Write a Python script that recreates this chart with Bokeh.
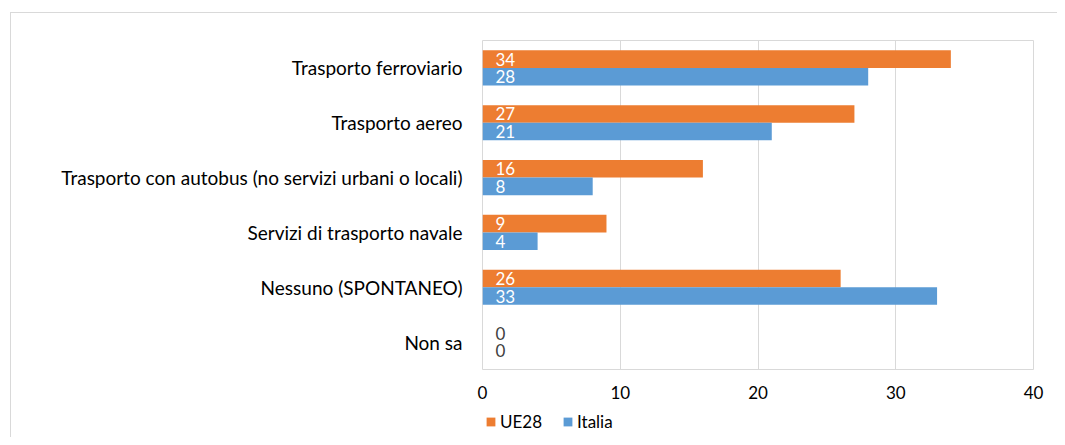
from bokeh.plotting import figure
from bokeh.layouts import column
from bokeh.models import ColumnDataSource, FactorRange, Range1d, Legend, LegendItem, FixedTicker
from bokeh.transform import dodge
from bokeh.core.properties import value
from bokeh.embed import file_html
from bokeh.resources import INLINE

categories = [
    "Trasporto ferroviario",
    "Trasporto aereo",
    "Trasporto con autobus (no servizi urbani o locali)",
    "Servizi di trasporto navale",
    "Nessuno (SPONTANEO)",
    "Non sa",
]
ue28 = [34, 27, 16, 9, 26, 0]
italia = [28, 21, 8, 4, 33, 0]
series_names = ["UE28", "Italia"]
x_ticks = [0, 10, 20, 30, 40]

FONT = "Lato"
ORANGE = "#ED7D31"
BLUE = "#5B9BD5"
GRID = "#d9d9d9"
BORDER = "1px solid #d9d9d9"

src = ColumnDataSource(dict(
    cat=categories,
    ue28=ue28,
    italia=italia,
    ue28_lbl=[str(v) for v in ue28],
    italia_lbl=[str(v) for v in italia],
    ue28_col=["white" if v > 0 else "#404040" for v in ue28],
    italia_col=["white" if v > 0 else "#404040" for v in italia],
))

p = figure(
    width=1047, height=395,
    y_range=FactorRange(*reversed(categories)),
    x_range=Range1d(0, 40),
    output_backend="svg", toolbar_location=None,
    min_border_left=471, min_border_right=25, min_border_top=27, min_border_bottom=39,
)
p.styles = {"border-top": BORDER, "border-left": BORDER}

r1 = p.hbar(y=dodge("cat", 0.16, range=p.y_range), right="ue28", left=0, height=0.32,
            source=src, fill_color=ORANGE, line_color=None)
r2 = p.hbar(y=dodge("cat", -0.16, range=p.y_range), right="italia", left=0, height=0.32,
            source=src, fill_color=BLUE, line_color=None)

p.text(x=0, y=dodge("cat", 0.16, range=p.y_range), text="ue28_lbl", source=src,
       x_offset=13, text_baseline="middle", text_align="left",
       text_font=value(FONT), text_font_size="17px", text_color="ue28_col")
p.text(x=0, y=dodge("cat", -0.16, range=p.y_range), text="italia_lbl", source=src,
       x_offset=13, text_baseline="middle", text_align="left",
       text_font=value(FONT), text_font_size="17px", text_color="italia_col")

p.outline_line_color = GRID
p.outline_line_width = 1
p.ygrid.grid_line_color = None
p.xgrid.grid_line_color = GRID
p.xgrid.grid_line_width = 1
p.xaxis.ticker = FixedTicker(ticks=x_ticks)

for ax in (p.xaxis[0], p.yaxis[0]):
    ax.axis_line_color = None
    ax.major_tick_line_color = None
    ax.minor_tick_line_color = None
    ax.major_tick_out = 0
    ax.major_tick_in = 0
    ax.major_label_text_font = FONT
    ax.major_label_text_color = "#000000"
p.yaxis.major_label_text_font_size = "19px"
p.xaxis.major_label_text_font_size = "17px"
p.yaxis.major_label_standoff = 20
p.xaxis.major_label_standoff = 16

# legend strip below the chart (frame aligned with the main chart's frame)
lf = figure(
    width=1047, height=30,
    x_range=Range1d(0, 1), y_range=Range1d(0, 1),
    output_backend="svg", toolbar_location=None,
    min_border_left=0, min_border_right=0, min_border_top=0, min_border_bottom=0,
)
lf.styles = {"border-left": BORDER}
lf.axis.visible = False
lf.grid.visible = False
lf.outline_line_color = None
d1 = lf.hbar(y=[-5], right=[1], left=0, height=0.1, fill_color=ORANGE, line_color=None)
d2 = lf.hbar(y=[-5], right=[1], left=0, height=0.1, fill_color=BLUE, line_color=None)

legend = Legend(items=[LegendItem(label=series_names[0], renderers=[d1]),
                       LegendItem(label=series_names[1], renderers=[d2])],
                orientation="horizontal", location=(3, 5))
legend.label_text_font = FONT
legend.label_text_font_size = "17px"
legend.label_text_color = "#000000"
legend.glyph_width = 11
legend.glyph_height = 11
legend.label_standoff = 4
legend.spacing = 20
legend.padding = 0
legend.margin = 0
legend.border_line_color = None
legend.background_fill_alpha = 0
lf.add_layout(legend, "center")

layout = column(p, lf, spacing=0)
layout.margin = (12, 0, 0, 10)

open("out.html", "w").write(file_html(layout, INLINE))
